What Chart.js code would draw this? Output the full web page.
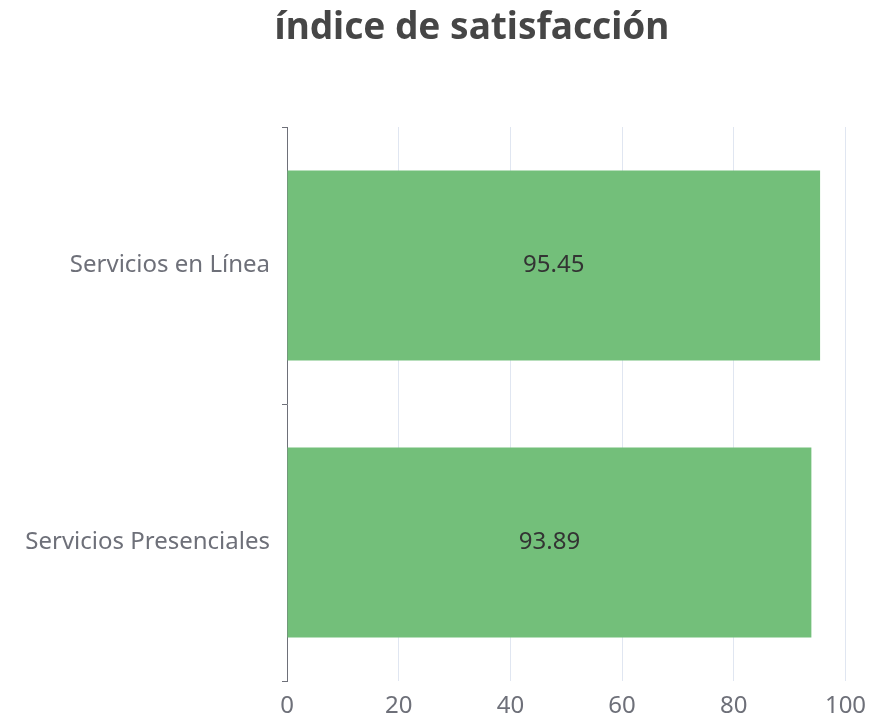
<!DOCTYPE html>
<html>
<head>
<meta charset="utf-8">
<script src="https://cdn.jsdelivr.net/npm/chart.js@4.4.0/dist/chart.umd.min.js"></script>
<style>
  html, body { margin: 0; padding: 0; background: #fff; }
  #wrap { width: 869px; height: 721px; position: relative; }
</style>
</head>
<body>
<div id="wrap"><canvas id="myGraph"></canvas></div>
<script>
const titleText = "índice de satisfacción";
const categories = ["Servicios en Línea", "Servicios Presenciales"];
const satisfaction = [95.45, 93.89];
const xTicks = [0, 20, 40, 60, 80, 100];

const FONT = "'Noto Sans', 'Open Sans', sans-serif";

// title drawn by hand so it can sit where the original one sits
const titlePlugin = {
  id: "titleText",
  afterDraw(chart) {
    const ctx = chart.ctx;
    ctx.save();
    ctx.font = "bold 37px " + FONT;
    ctx.fillStyle = "#464646";
    ctx.textAlign = "center";
    ctx.textBaseline = "middle";
    ctx.fillText(titleText, 472, 28);
    ctx.restore();
  }
};

// value in the middle of each bar
const barLabels = {
  id: "barLabels",
  afterDatasetsDraw(chart) {
    const ctx = chart.ctx;
    const meta = chart.getDatasetMeta(0);
    ctx.save();
    ctx.font = "24px " + FONT;
    ctx.fillStyle = "#333";
    ctx.textAlign = "center";
    ctx.textBaseline = "middle";
    meta.data.forEach((bar, i) => {
      const cx = (bar.x + bar.base) / 2;
      ctx.fillText(satisfaction[i].toFixed(2), cx, bar.y);
    });
    ctx.restore();
  }
};

const chartEl = document.getElementById("myGraph");
new Chart(chartEl, {
  type: "bar",
  data: {
    labels: categories,
    datasets: [
      {
        label: titleText,
        data: satisfaction,
        backgroundColor: "#73bf7a",
        borderWidth: 0,
        barPercentage: 0.686,
        categoryPercentage: 1
      }
    ]
  },
  options: {
    indexAxis: "y",
    responsive: true,
    maintainAspectRatio: false,
    animation: false,
    layout: { padding: { top: 127, right: 0, left: 0, bottom: 0 } },
    plugins: {
      legend: { display: false },
      tooltip: { enabled: false },
      title: { display: false }
    },
    scales: {
      x: {
        min: 0,
        max: 100,
        afterBuildTicks(scale) {
          scale.ticks = xTicks.map(v => ({ value: v }));
        },
        afterFit(scale) {
          scale.height = 40;
          scale.paddingLeft = 0;
          scale.paddingRight = 23.5;
        },
        border: { display: false },
        grid: {
          color: ctx => (ctx.tick && ctx.tick.value === 0 ? "rgba(0,0,0,0)" : "#e0e6f1"),
          drawTicks: false
        },
        ticks: {
          color: "#6e7079",
          font: { family: FONT, size: 24 },
          padding: 11,
          maxRotation: 0
        }
      },
      y: {
        afterFit(scale) { scale.width = 287; },
        border: { display: true, color: "#6e7079", width: 1 },
        grid: {
          offset: true,
          drawOnChartArea: false,
          drawTicks: true,
          tickLength: 5,
          color: "#6e7079"
        },
        ticks: {
          color: "#6e7079",
          font: { family: FONT, size: 24 },
          padding: 12
        }
      }
    }
  },
  plugins: [titlePlugin, barLabels]
});
</script>
</body>
</html>
